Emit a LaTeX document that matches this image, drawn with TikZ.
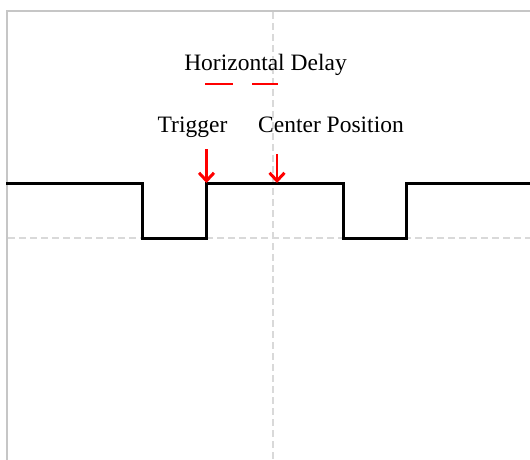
\documentclass[tikz,border=0pt]{standalone}
\usepackage{fontspec}
\setmainfont{Liberation Serif}
\usetikzlibrary{arrows.meta}
\definecolor{framegray}{HTML}{C6C6C6}
\definecolor{dashgray}{HTML}{D9D9D9}
\definecolor{markred}{HTML}{FF0000}
\tikzset{
  frameline/.style={draw=framegray, line width=2.6pt},
  gridline/.style={draw=dashgray, line width=2.2pt, dash pattern=on 7pt off 4pt},
  wave/.style={draw=black, line width=3pt, line join=miter},
  redarrow/.style={draw=markred, line width=2.8pt, -{Straight Barb[length=8pt,width=15pt,line width=3pt]}},
  redmark/.style={draw=markred, line width=2pt},
  lbl/.style={anchor=base, inner sep=0pt, font=\fontsize{23.5}{28}\selectfont}
}
\begin{document}
\begin{tikzpicture}[x=1pt,y=-1pt]
\useasboundingbox (0,0) rectangle (530,459);
% frame
\draw[frameline] (7,460) -- (7,11) -- (531,11);
% grid
\draw[gridline] (273,12) -- (273,460);
\draw[gridline] (8,238) -- (531,238);
% waveform
\draw[wave] (6,183) -- (142,183) -- (142,238) -- (206,238) -- (206,183) -- (343,183) -- (343,238) -- (406,238) -- (406,183) -- (531,183);
% labels
\node[lbl] (hd) at (265.5,70) {Horizontal Delay};
\node[lbl] (trig) at (192.5,132) {Trigger};
\node[lbl] (cp) at (331,132) {Center Position};
% red marks
\coordinate (m1a) at (205,83.5);
\coordinate (m1b) at (233,83.5);
\coordinate (m2a) at (252,83.5);
\coordinate (m2b) at (278,83.5);
\draw[redmark] (m1a) -- (m1b);
\draw[redmark] (m2a) -- (m2b);
% arrows
\coordinate (t0) at (206.5,149);
\coordinate (t1) at (206.5,183);
\coordinate (c0) at (277,154);
\coordinate (c1) at (277,183);
\draw[redarrow] (t0) -- (t1);
\draw[redarrow] (c0) -- (c1);
\end{tikzpicture}
\end{document}
